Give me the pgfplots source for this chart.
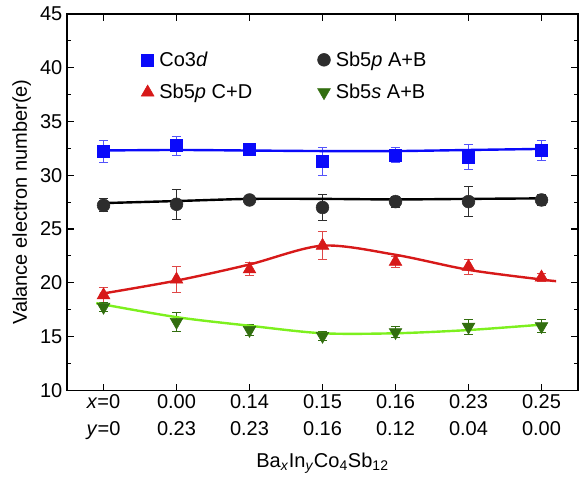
\documentclass[border=0pt]{standalone}
\usepackage{fontspec}
\setmainfont{Liberation Sans}
\usepackage{pgfplots}
\pgfplotsset{compat=1.18}
\definecolor{coblue}{RGB}{10,10,250}
\definecolor{sbblack}{RGB}{45,45,45}
\definecolor{sbred}{RGB}{215,25,25}
\definecolor{sbgreen}{RGB}{50,110,15}
\definecolor{fitgreen}{RGB}{125,240,30}

\pgfplotsset{
  errstyle/.style={
    error bars/.cd, y dir=both, y explicit,
    error bar style={line width=0.6pt, color=#1},
    error mark options={rotate=90, mark size=3.5pt, line width=0.6pt, color=#1},
  },
}

\begin{document}
\begin{tikzpicture}
\begin{axis}[
  name=ax,
  scale only axis,
  width=383pt, height=282pt,
  xmin=-0.5, xmax=6.5, ymin=10, ymax=45,
  xtick={0,1,2,3,4,5,6},
  xticklabels={{\textit{x}=0\\\textit{y}=0},{0.00\\0.23},{0.14\\0.23},{0.15\\0.16},{0.16\\0.12},{0.23\\0.04},{0.25\\0.00}},
  ytick={10,15,...,45},
  minor y tick num=1,
  tick align=inside,
  major tick length=5pt, minor tick length=3pt,
  axis line style={line width=1.1pt},
  every tick/.style={black, line width=0.9pt},
  font=\fontsize{15}{18}\selectfont,
  x tick label style={align=center, font=\fontsize{15}{20}\selectfont},
  /pgf/number format/assume math mode=true,
  xlabel={Ba\textsubscript{\textit{x}}In\textsubscript{\textit{y}}Co\textsubscript{4}Sb\textsubscript{12}},
  ylabel={Valance electron number(e)},
  xlabel style={yshift=-3pt},
  legend columns=2,
  legend style={draw=none, fill=none, at={(0.137,0.915)}, anchor=north west,
    font=\fontsize{15}{18}\selectfont, row sep=8pt,
    /tikz/every odd column/.append style={column sep=2pt}},
  /tikz/column 2/.style={column sep=47pt},
  legend cell align=left,
]
% measured populations with error bars
\addplot[only marks, mark=square*, mark size=4.5pt, color=coblue, errstyle=coblue!70]
  table[x=x, y=y, y error=e]{
x y e
0 32.2 1.0
1 32.75 0.9
2 32.4 0.4
3 31.3 1.3
4 31.85 0.7
5 31.7 1.15
6 32.3 0.9
};
\addlegendentry{Co3\textit{d}}
\addplot[only marks, mark=*, mark size=4.8pt, color=sbblack, errstyle=sbblack]
  table[x=x, y=y, y error=e]{
x y e
0 27.2 0.6
1 27.3 1.4
2 27.7 0.45
3 27.0 1.2
4 27.55 0.5
5 27.55 1.4
6 27.7 0.5
};
\addlegendentry{Sb5\textit{p} A+B}
\addplot[only marks, mark=triangle*, mark size=5.5pt, color=sbred, errstyle=sbred!80]
  table[x=x, y=y, y error=e]{
x y e
0 18.85 0.7
1 20.3 1.2
2 21.25 0.6
3 23.45 1.3
4 21.95 0.5
5 21.5 0.7
6 20.5 0.4
};
\addlegendentry{Sb5\textit{p} C+D}
\addplot[only marks, mark=triangle*, mark options={rotate=180}, mark size=5.5pt, color=sbgreen, errstyle=sbgreen]
  table[x=x, y=y, y error=e]{
x y e
0 17.75 0.4
1 16.35 0.9
2 15.6 0.5
3 15.05 0.4
4 15.4 0.5
5 15.9 0.7
6 15.95 0.6
};
\addlegendentry{Sb5\textit{s} A+B}
% fitted trend lines
\addplot[forget plot, smooth, line width=1.8pt, color=coblue] coordinates {
(-0.05,32.3) (1,32.35) (2,32.3) (3,32.25) (4,32.25) (5,32.35) (6,32.45)};
\addplot[forget plot, smooth, line width=1.8pt, color=black] coordinates {
(-0.05,27.4) (1,27.6) (2,27.8) (3,27.8) (4,27.75) (5,27.8) (6,27.85)};
\addplot[forget plot, smooth, line width=1.8pt, color=sbred] coordinates {
(-0.05,18.95) (1,20.2) (2,21.7) (3,23.45) (4,22.6) (5,21.2) (6,20.3) (6.2,20.15)};
\addplot[forget plot, smooth, line width=1.8pt, color=fitgreen] coordinates {
(-0.1,18.1) (1,16.8) (2,16.0) (3,15.3) (4,15.3) (5,15.6) (6,16.1)};
\end{axis}
\path (ax.south west) ++(-50.25pt,-61.5pt) coordinate (bbA);
\path (ax.north east) ++(0.75pt,10.5pt) coordinate (bbB);
\path (bbA) rectangle (bbB);
\end{tikzpicture}
\end{document}
